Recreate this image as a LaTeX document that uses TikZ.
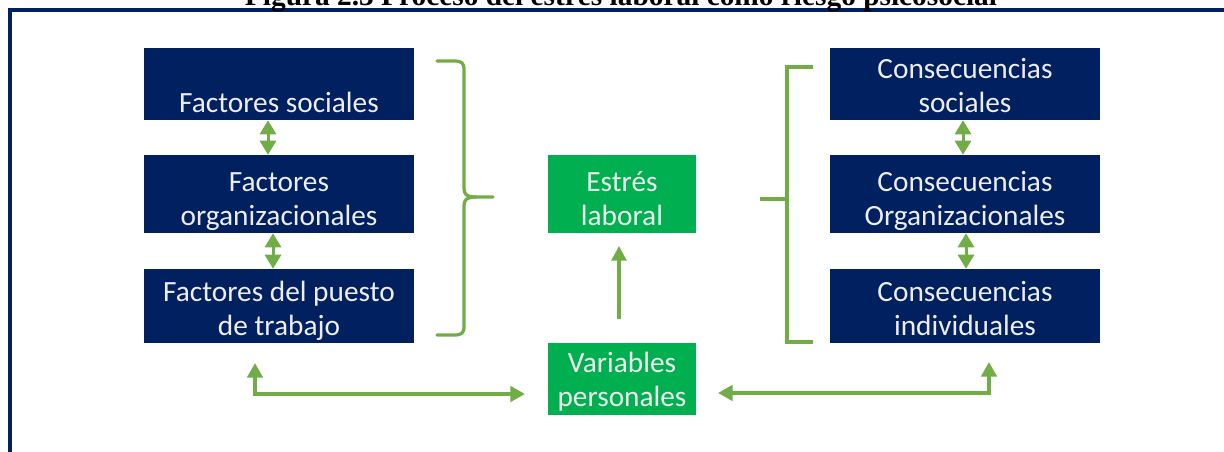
\documentclass[tikz,border=0pt]{standalone}
\usepackage{fontspec}
\setmainfont{Carlito}
\newfontfamily\titlefont{Liberation Serif}
\usetikzlibrary{arrows.meta}
\definecolor{navy}{HTML}{002060}
\definecolor{lgreen}{HTML}{70AD47}
\definecolor{bgreen}{HTML}{00B050}
\definecolor{txtc}{HTML}{EDEDED}
\begin{document}
\begin{tikzpicture}[x=0.75pt,y=-0.75pt,
  txt/.style={inner sep=0pt, align=center, text=txtc, font=\fontsize{22}{25.5}\selectfont},
  navybox/.style={inner sep=0pt, fill=navy, minimum width=202.5pt},
  greenbox/.style={inner sep=0pt, fill=bgreen, minimum width=111pt},
  darrow/.style={lgreen, line width=2.25pt, {Triangle[width=12pt,length=10.5pt]}-{Triangle[width=12pt,length=10.5pt]}},
  larrow/.style={lgreen, line width=3pt, {Triangle[width=11.5pt,length=11pt]}-{Triangle[width=11.5pt,length=11pt]}},
  uparrow/.style={lgreen, line width=2.5pt, -{Triangle[width=11pt,length=11pt]}},
  bracket/.style={lgreen, line width=2.4pt}
]
\useasboundingbox (0,0) rectangle (1224,451);
% frame and title
\draw[navy, line width=3pt] (9.5,470) -- (9.5,10) -- (1250,10);
\node[anchor=base, font=\titlefont\bfseries\fontsize{18}{20}\selectfont] (title) at (621,5)
  {\resizebox{564pt}{!}{Figura 2.3 Proceso del estrés laboral como riesgo psicosocial}};
% left column
\node[navybox, minimum height=54pt, label={[txt, yshift=-3.25pt]center:{\strut\\Factores sociales\strut}}] (fs) at (279,84) {};
\node[navybox, minimum height=58.5pt, label={[txt, yshift=-5.45pt]center:{\strut Factores\\organizacionales\strut}}] (fo) at (279,194) {};
\node[navybox, minimum height=55.5pt, label={[txt, yshift=-3.95pt]center:{\strut Factores del puesto\\de trabajo\strut}}] (fp) at (279,306) {};
% right column
\node[navybox, minimum height=54pt, label={[txt, yshift=-3.25pt]center:{\strut Consecuencias\\sociales\strut}}] (cs) at (965,84) {};
\node[navybox, minimum height=58.5pt, label={[txt, yshift=-5.45pt]center:{\strut Consecuencias\\Organizacionales\strut}}] (co) at (965,194) {};
\node[navybox, minimum height=55.5pt, label={[txt, yshift=-3.95pt]center:{\strut Consecuencias\\individuales\strut}}] (ci) at (965,306) {};
% center
\node[greenbox, minimum height=58.5pt, label={[txt, yshift=-5.45pt]center:{\strut Estrés\\laboral\strut}}] (el) at (622,194) {};
\node[greenbox, minimum height=54pt, label={[txt, yshift=-2.45pt]center:{\strut Variables\\personales\strut}}] (vp) at (622,379) {};
% small double arrows
\coordinate (x1) at (268,0);
\coordinate (x2) at (273,0);
\coordinate (x3) at (963,0);
\coordinate (x4) at (966,0);
\coordinate (x5) at (619,0);
\draw[darrow] (fs.south -| x1) -- (fo.north -| x1);
\draw[darrow] (fo.south -| x2) -- (fp.north -| x2);
\draw[darrow] (cs.south -| x3) -- (co.north -| x3);
\draw[darrow] (co.south -| x4) -- (ci.north -| x4);
% up arrow
\draw[uparrow, shorten <=18pt, shorten >=9.5pt] (vp.north -| x5) -- (el.south -| x5);
% bottom arrows
\coordinate (bl1) at (255,363);
\coordinate (bl2) at (525,394);
\coordinate (br1) at (718,393);
\coordinate (br2) at (989,362);
\draw[larrow] (bl1) |- (bl2);
\draw[larrow] (br1) -| (br2);
% left brace
\draw[bracket, line cap=round] (437,61) -- (454,61) .. controls (462,61) and (464,63) .. (464,70)
  -- (464,188) .. controls (464,194) and (466,197) .. (476,197) -- (493,197);
\draw[bracket, line cap=round] (476,197) .. controls (466,197) and (464,200) .. (464,206)
  -- (464,326) .. controls (464,333) and (462,335) .. (454,335) -- (437,335);
% right bracket
\draw[bracket] (813,67) -- (787,67) -- (787,342) -- (813,342);
\draw[bracket] (760,199) -- (787,199);
\end{tikzpicture}
\end{document}
